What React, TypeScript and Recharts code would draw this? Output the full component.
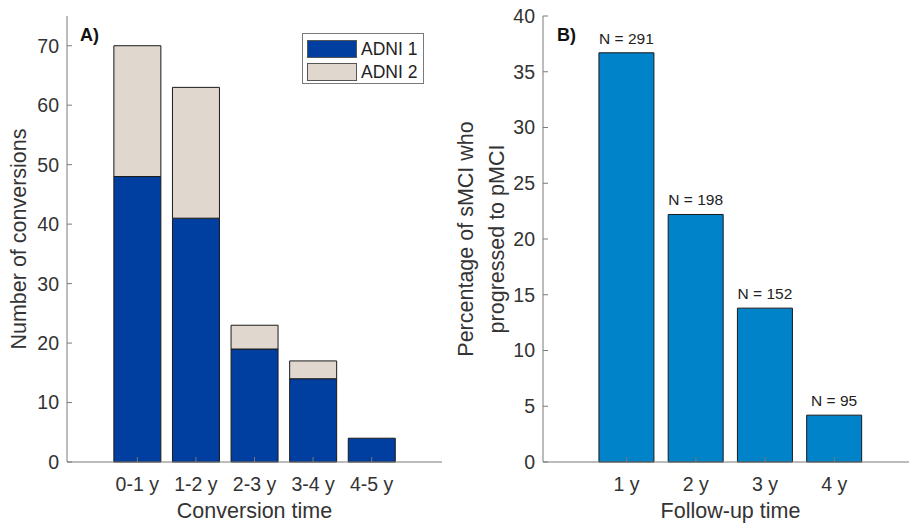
import { BarChart, Bar, XAxis, YAxis, Legend, LabelList } from "recharts";

const conversionTimes = ["0-1 y", "1-2 y", "2-3 y", "3-4 y", "4-5 y"];
const adni1 = [48, 41, 19, 14, 4];
const adni2 = [22, 22, 4, 3, 0];
const countTicks = [0, 10, 20, 30, 40, 50, 60, 70];

const followUpTimes = ["1 y", "2 y", "3 y", "4 y"];
const progressedPct = [36.7, 22.2, 13.8, 4.2];
const sampleSizes = [291, 198, 152, 95];
const pctTicks = [0, 5, 10, 15, 20, 25, 30, 35, 40];

const conversionData = conversionTimes.map((t, i) => ({
  time: t,
  adni1: adni1[i],
  adni2: adni2[i],
}));

const followUpData = followUpTimes.map((t, i) => ({
  time: t,
  pct: progressedPct[i],
  n: sampleSizes[i],
}));

const FONT = "'Liberation Sans', Arial, Helvetica, sans-serif";
const AXIS = "#7a7a7a";
const TEXT = "#333333";
const DARK_BLUE = "#003ea0";
const BEIGE = "#e0d7ce";
const LIGHT_BLUE = "#0083c8";

const tickStyle = { fontSize: 19.5, fill: TEXT, fontFamily: FONT };

const legendContent = () => (
  <div
    style={{
      border: `1px solid ${AXIS}`,
      background: "#fff",
      width: 122,
      height: 51,
      boxSizing: "border-box",
      padding: "4px 0 0 4px",
      fontFamily: FONT,
      fontSize: 17.5,
      color: "#222",
    }}
  >
    {[
      { name: "ADNI 1", color: DARK_BLUE },
      { name: "ADNI 2", color: BEIGE },
    ].map((it) => (
      <div key={it.name} style={{ display: "flex", alignItems: "center", height: 22, marginBottom: 1 }}>
        <div
          style={{
            width: 50,
            height: 18,
            background: it.color,
            border: "1px solid #555",
            boxSizing: "border-box",
            marginRight: 4,
          }}
        />
        <span>{it.name}</span>
      </div>
    ))}
  </div>
);

// axis titles sit just above the bottom edge, like the cropped figure
const xTitle = (text: string) => (props: any) => {
  const vb = props.viewBox;
  return (
    <text x={vb.x + vb.width / 2} y={518} textAnchor="middle" fontSize={21.5} fill={TEXT} fontFamily={FONT}>
      {text}
    </text>
  );
};

const yTitle = (lines: string[], xs: number[]) => (props: any) => {
  const vb = props.viewBox;
  const cy = vb.y + vb.height / 2;
  return (
    <g>
      {lines.map((l, i) => (
        <text
          key={l}
          x={xs[i]}
          y={cy}
          transform={`rotate(-90, ${xs[i]}, ${cy})`}
          textAnchor="middle"
          fontSize={21.5}
          fill={TEXT}
          fontFamily={FONT}
        >
          {l}
        </text>
      ))}
    </g>
  );
};

const nLabel = (props: any) => {
  const { x, y, width, value } = props;
  return (
    <text x={x + width / 2} y={y - 9} textAnchor="middle" fontSize={15.5} fill="#222" fontFamily={FONT}>
      {`N = ${value}`}
    </text>
  );
};

const panelTag = (text: string, left: number) => (
  <div
    style={{
      position: "absolute",
      left,
      top: 25,
      fontFamily: FONT,
      fontWeight: "bold",
      fontSize: 18,
      color: "#111",
    }}
  >
    {text}
  </div>
);

export default function App() {
  return (
    <div
      style={{
        position: "absolute",
        left: 0,
        top: 0,
        width: 909,
        height: 524,
        overflow: "hidden",
        background: "#fff",
      }}
    >
      <div style={{ position: "absolute", left: 0, top: 0 }}>
        <BarChart
          width={460}
          height={524}
          data={conversionData}
          margin={{ top: 16, right: 18, bottom: 0, left: 0 }}
          barCategoryGap="10%"
        >
          <XAxis
            dataKey="time"
            height={62}
            padding={{ left: 41, right: 41 }}
            stroke={AXIS}
            tickSize={-5}
            tickMargin={20}
            tick={tickStyle}
            label={{ content: xTitle("Conversion time") }}
          />
          <XAxis xAxisId="top" dataKey="time" orientation="top" height={0} padding={{ left: 41, right: 41 }} stroke={AXIS} tickSize={-5} tick={false} />
          <YAxis
            width={67}
            domain={[0, 75]}
            ticks={countTicks}
            stroke={AXIS}
            tickSize={-5}
            tickMargin={13}
            tick={tickStyle}
            label={{ content: yTitle(["Number of conversions"], [26]) }}
          />
          <YAxis yAxisId="r" orientation="right" width={0} domain={[0, 75]} ticks={countTicks} stroke={AXIS} tickSize={-5} tick={false} />
          <Legend
            layout="vertical"
            align="center"
            verticalAlign="middle"
            content={legendContent}
            wrapperStyle={{ left: 302, top: 33, width: 122, height: 51 }}
          />
          <Bar dataKey="adni1" stackId="a" fill={DARK_BLUE} stroke="#1a1a1a" strokeWidth={1} isAnimationActive={false} />
          <Bar dataKey="adni2" stackId="a" fill={BEIGE} stroke="#1a1a1a" strokeWidth={1} isAnimationActive={false} />
        </BarChart>
      </div>
      {panelTag("A)", 80)}

      <div style={{ position: "absolute", left: 440, top: 0 }}>
        <BarChart
          width={478}
          height={524}
          data={followUpData}
          margin={{ top: 16, right: 0, bottom: 0, left: 0 }}
          barCategoryGap="10%"
        >
          <XAxis
            dataKey="time"
            height={62}
            padding={{ left: 49, right: 49 }}
            stroke={AXIS}
            tickSize={-5}
            tickMargin={20}
            tick={tickStyle}
            label={{ content: xTitle("Follow-up time") }}
          />
          <XAxis xAxisId="top" dataKey="time" orientation="top" height={0} padding={{ left: 49, right: 49 }} stroke={AXIS} tickSize={-5} tick={false} />
          <YAxis
            width={103}
            domain={[0, 40]}
            ticks={pctTicks}
            stroke={AXIS}
            tickSize={-5}
            tickMargin={13}
            tick={tickStyle}
            label={{ content: yTitle(["Percentage of sMCI who", "progressed to pMCI"], [33, 64]) }}
          />
          <Bar dataKey="pct" fill={LIGHT_BLUE} stroke="#1a1a1a" strokeWidth={1} isAnimationActive={false}>
            <LabelList dataKey="n" content={nLabel} />
          </Bar>
        </BarChart>
      </div>
      {panelTag("B)", 557)}
    </div>
  );
}
